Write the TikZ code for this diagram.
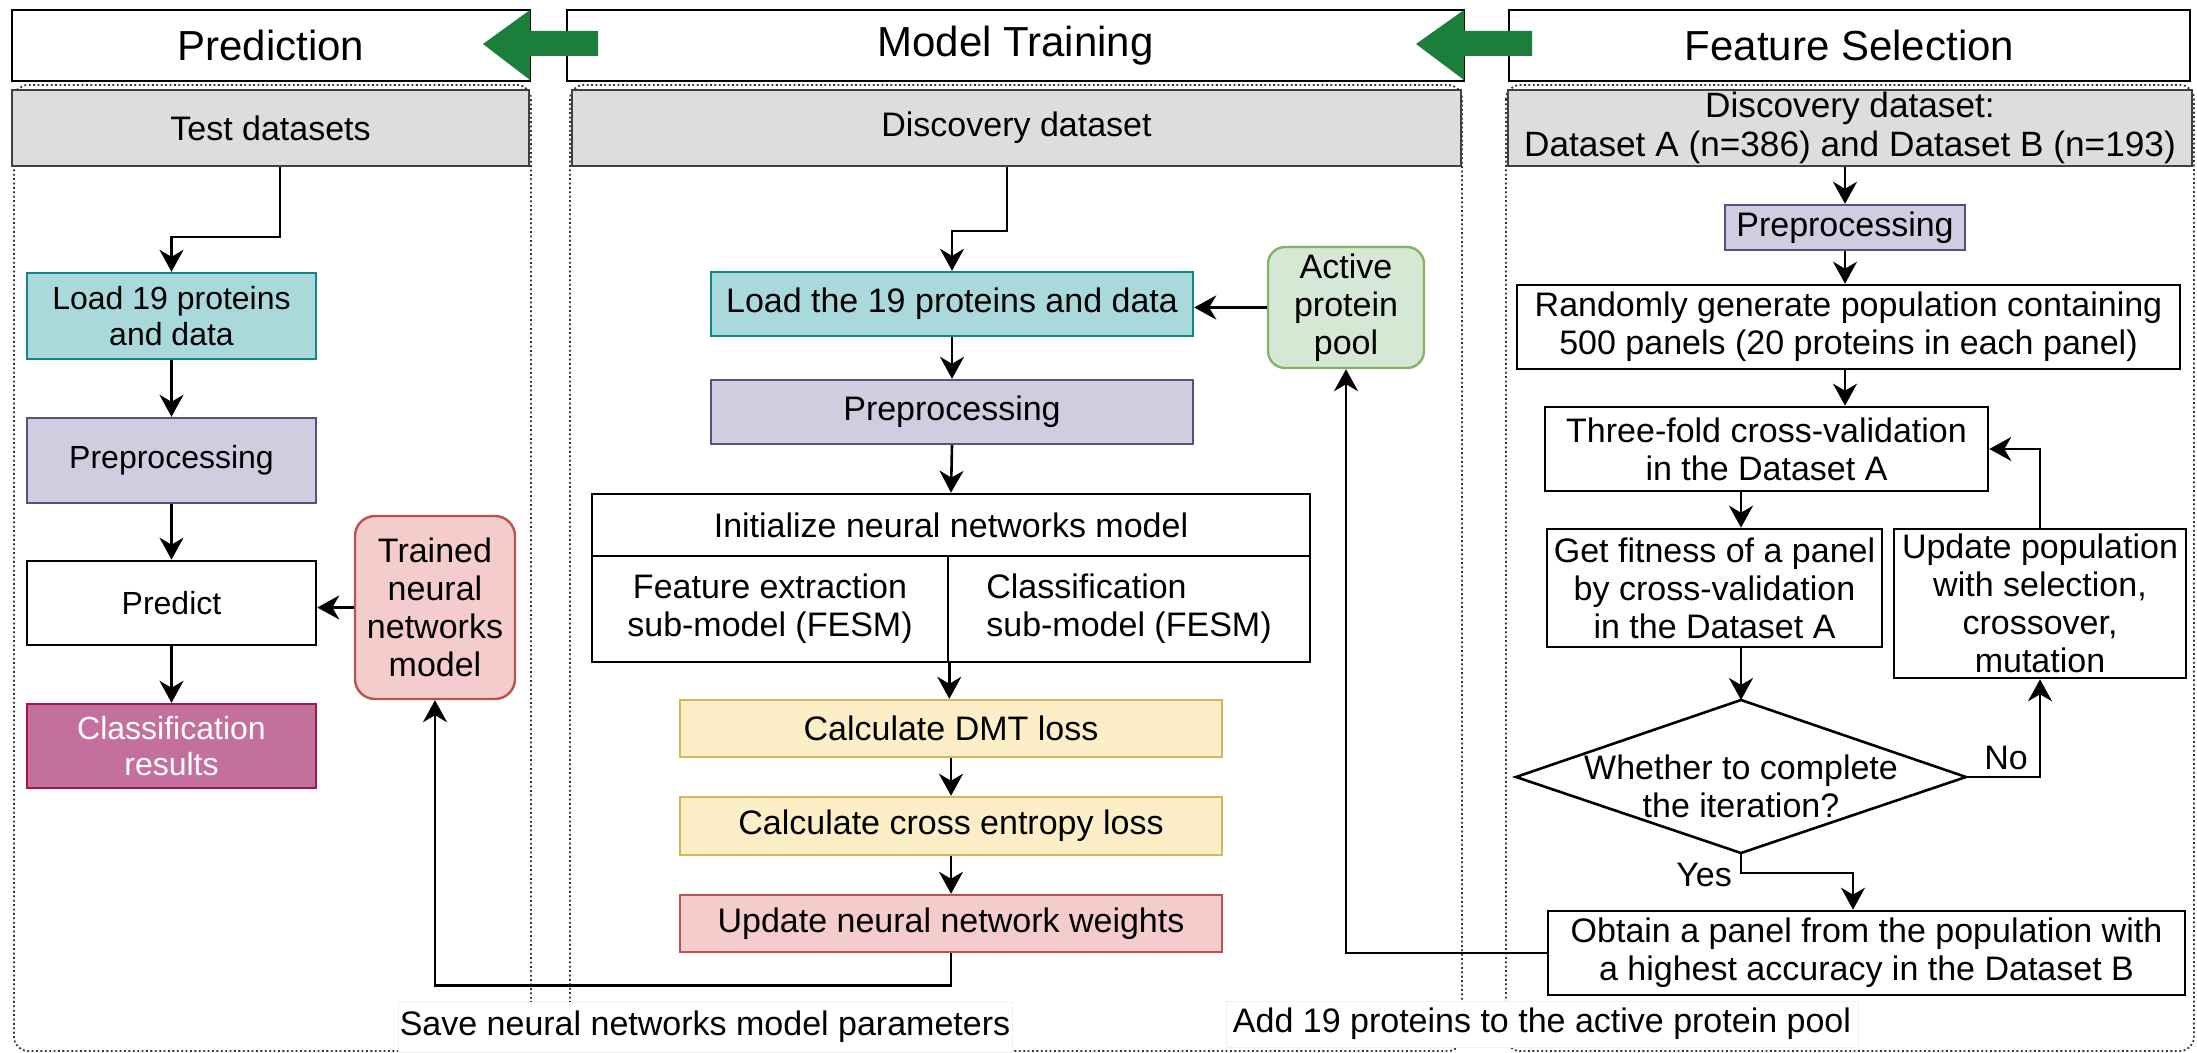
\documentclass[tikz,border=0pt]{standalone}
\usepackage{fontspec}
\setmainfont{Liberation Sans}
\usetikzlibrary{arrows.meta,calc}

\definecolor{tealfill}{HTML}{AAD9DC}
\definecolor{tealline}{HTML}{12858C}
\definecolor{lavfill}{HTML}{D0CDE1}
\definecolor{lavline}{HTML}{56517E}
\definecolor{rosefill}{HTML}{F4CCCC}
\definecolor{roseline}{HTML}{B85450}
\definecolor{plumfill}{HTML}{C4709F}
\definecolor{plumline}{HTML}{A3184C}
\definecolor{sandfill}{HTML}{FCEFC7}
\definecolor{sandline}{HTML}{D6B656}
\definecolor{mintfill}{HTML}{D5E8D4}
\definecolor{mintline}{HTML}{82B366}
\definecolor{greybg}{HTML}{DCDEDD}
\definecolor{flowgreen}{HTML}{1B7F3B}

\begin{document}
\begin{tikzpicture}[x=0.5pt,y=-0.5pt,
  every node/.style={inner sep=0pt, align=center},
  body/.style={font=\fontsize{17}{19}\selectfont},
  small/.style={font=\fontsize{16}{18}\selectfont},
  hdr/.style={draw, line width=1.3pt, fill=white, font=\fontsize{21}{25}\selectfont},
  dset/.style={body, draw=black!75, line width=1pt, fill=greybg},
  panel/.style={draw=black!80, line width=0.9pt, dash pattern=on 0.9pt off 1.3pt, rounded corners=7pt},
  plainbox/.style={body, draw, line width=1.3pt, fill=white},
  tealbox/.style={draw=tealline, line width=1.2pt, fill=tealfill},
  lavbox/.style={draw=lavline, line width=1.2pt, fill=lavfill},
  rosebox/.style={draw=roseline, line width=1.2pt, fill=rosefill},
  plumbox/.style={draw=plumline, line width=1.2pt, fill=plumfill, text=white},
  sandbox/.style={body, draw=sandline, line width=1.2pt, fill=sandfill},
  mintbox/.style={body, draw=mintline, line width=1.2pt, fill=mintfill, rounded corners=8.5pt},
  conn/.style={line width=1.3pt, -{Stealth[length=11pt,width=12pt,inset=3.5pt]}},
  wire/.style={line width=1.3pt},
  banner/.style={body, fill=white, draw=black!6, line width=0.4pt}
]
\useasboundingbox (0,0) rectangle (2197,1053);

% dotted column frames
\draw[panel] (14,85) rectangle (531,1051);
\draw[panel] (570,85) rectangle (1462,1051);
\draw[panel] (1506,85) rectangle (2194,1051);

% input data bars
\node[dset, minimum width=258.5pt, minimum height=38pt] (test) at (270.5,128) {Test datasets};
\node[dset, minimum width=444.5pt, minimum height=38pt] (disc) at (1016.5,128) {Discovery dataset};
\node[dset, minimum width=342pt, minimum height=38pt, font=\fontsize{17.6}{19.5}\selectfont] (disc3) at (1850,128)
  {Discovery dataset:\\Dataset A (n=386) and Dataset B (n=193)};

% stage headers
\node[hdr, minimum width=259pt, minimum height=35.5pt] (predH) at (271,45.5) {Prediction};
\node[hdr, minimum width=448.5pt, minimum height=35.5pt] (trainH) at (1015.5,45.5) {Model Training};
\node[hdr, minimum width=340.5pt, minimum height=35.5pt] (featH) at (1849.5,45.5) {Feature Selection};

% block arrows between stages
\fill[flowgreen] (598,31) -- (530,31) -- (530,10) -- (483,44) -- (530,80) -- (530,56) -- (598,56) -- cycle;
\fill[flowgreen] (1532,31) -- (1464,31) -- (1464,10) -- (1416,44) -- (1464,80) -- (1464,56) -- (1532,56) -- cycle;

% prediction column
\node[small, tealbox, minimum width=144.5pt, minimum height=43pt] (load1) at (171.5,316) {Load 19 proteins\\and data};
\node[small, lavbox, minimum width=144.5pt, minimum height=42.5pt] (prep1) at (171.5,460.5) {Preprocessing};
\node[small, draw, line width=1.3pt, fill=white, minimum width=144.5pt, minimum height=42pt] (pred) at (171.5,603) {Predict};
\node[small, plumbox, minimum width=144.5pt, minimum height=42pt] (cls) at (171.5,746) {Classification\\results};
\node[body, rosebox, rounded corners=10pt, minimum width=80pt, minimum height=91.5pt] (trained) at (435,607.5)
  {Trained\\neural\\networks\\model};

% model training column
\node[body, tealbox, minimum width=241pt, minimum height=32pt] (load2) at (952,304) {Load the 19 proteins and data};
\node[body, lavbox, minimum width=241pt, minimum height=32pt] (prep2) at (952,412) {Preprocessing};
\node[plainbox, minimum width=359pt, minimum height=31pt] (inittop) at (951,525) {Initialize neural networks model};
\node[plainbox, minimum width=178pt, minimum height=53pt] (initL) at (770,609) {Feature extraction\\sub-model (FESM)};
\node[plainbox, minimum width=181pt, minimum height=53pt, align=left] (initR) at (1129,609) {Classification\\sub-model (FESM)};
\node[sandbox, minimum width=271pt, minimum height=28.5pt] (dmt) at (951,728.5) {Calculate DMT loss};
\node[sandbox, minimum width=271pt, minimum height=29pt] (ce) at (951,826) {Calculate cross entropy loss};
\node[body, rosebox, minimum width=271pt, minimum height=28.5pt] (upd) at (951,923.5) {Update neural network weights};
\node[mintbox, minimum width=78pt, minimum height=60.5pt] (active) at (1346,307.5) {Active\\protein\\pool};

% feature selection column
\node[body, lavbox, minimum width=120pt, minimum height=22.5pt] (prep3) at (1845,227.5) {Preprocessing};
\node[plainbox, minimum width=331.5pt, minimum height=42pt] (rand) at (1848.5,327)
  {Randomly generate population containing\\500 panels (20 proteins in each panel)};
\node[plainbox, minimum width=221.5pt, minimum height=42pt] (three) at (1766.5,449)
  {Three-fold cross-validation\\in the Dataset A};
\node[plainbox, minimum width=167.5pt, minimum height=59pt] (fit) at (1714.5,588)
  {Get fitness of a panel\\by cross-validation\\in the Dataset A};
\node[plainbox, minimum width=146pt, minimum height=74.5pt] (upop) at (2040,603.5)
  {Update population\\with selection,\\crossover,\\mutation};
\coordinate (decL) at (1516,777);
\coordinate (decT) at (1741,700);
\coordinate (decR) at (1966,777);
\coordinate (decB) at (1741,853);
\draw[line width=1.3pt, fill=white] (decL) -- (decT) -- (decR) -- (decB) -- cycle;
\node[body] (dec) at (1741,786) {Whether to complete\\the iteration?};
\node[plainbox, minimum width=318.5pt, minimum height=42pt] (obtain) at (1866.5,953)
  {Obtain a panel from the population with\\a highest accuracy in the Dataset B};
\node[body] (nolbl) at (2006,758) {No};
\node[body] (yeslbl) at (1704,875) {Yes};

% connectors: prediction
\draw[conn] ([xshift=4.75pt]test.south) -- ++(0,-35pt) -| (load1.north);
\draw[conn] (load1.south) -- (prep1.north);
\draw[conn] (prep1.south) -- (pred.north);
\draw[conn] (pred.south) -- (cls.north);
\draw[conn] (trained.west) -- (trained.west -| pred.east);

% connectors: model training
\draw[conn] ([xshift=-4.75pt]disc.south) -- ++(0,-32pt) -| (load2.north);
\draw[conn] (active.west) -- (active.west -| load2.east);
\draw[conn] (load2.south) -- (prep2.north);
\draw[conn] (prep2.south) -- (inittop.north);
\draw[conn] (initL.south east) -- (dmt.north -| initL.south east);
\draw[conn] (dmt.south) -- (ce.north);
\draw[conn] (ce.south) -- (upd.north);
\draw[conn] (upd.south) -- ++(0,-16pt) -| (trained.south);

% connectors: feature selection
\draw[conn] (disc3.south -| prep3) -- (prep3.north);
\draw[conn] (prep3.south) -- (prep3.south |- rand.north);
\draw[conn] (prep3.south |- rand.south) -- (prep3.south |- three.north);
\draw[conn] (three.south -| dec) -- (fit.north -| dec);
\draw[conn] (fit.south -| dec) -- (decT);
\draw[conn] (upop.north) |- (three.east);
\draw[conn] (decR) -| (upop.south);
\draw[conn] (decB) -- ++(0,-10pt) -| ([xshift=-6.75pt]obtain.north);
\draw[conn] (obtain.west) -| (active.south);

% captions under the columns
\node[banner, minimum width=307pt, minimum height=25pt] (savelbl) at (705,1027)
  {Save neural networks model parameters};
\node[banner, minimum width=316pt, minimum height=23pt] (addlbl) at (1542,1024)
  {Add 19 proteins to the active protein pool};
\end{tikzpicture}
\end{document}
